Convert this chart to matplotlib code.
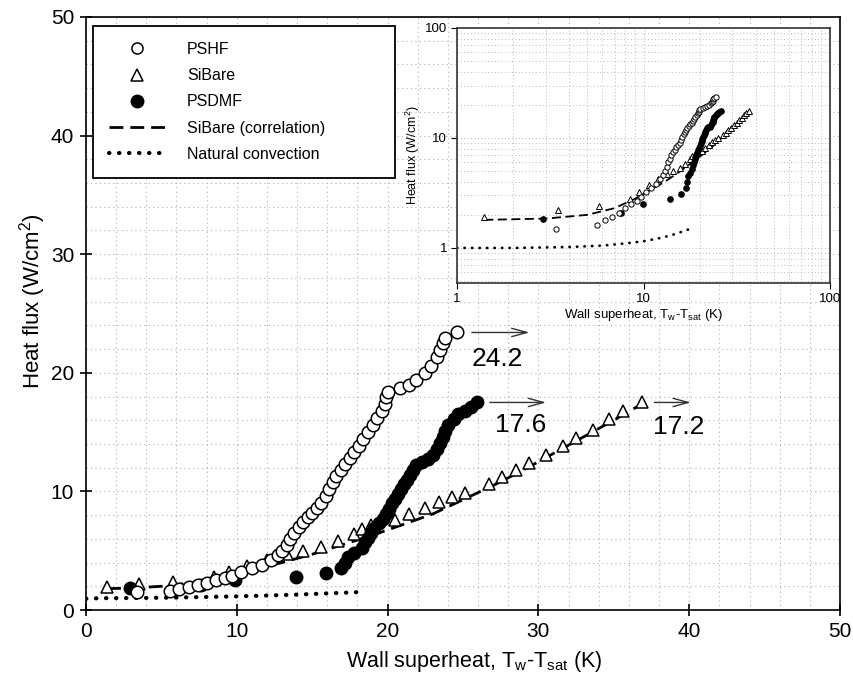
import matplotlib
matplotlib.use("Agg")
import matplotlib.pyplot as plt
from matplotlib.lines import Line2D
from matplotlib.ticker import MultipleLocator, LogLocator, NullFormatter

plt.rcParams['font.family'] = ['Liberation Sans', 'DejaVu Sans']
plt.rcParams['mathtext.fontset'] = 'custom'
plt.rcParams['mathtext.rm'] = 'Liberation Sans'
plt.rcParams['mathtext.default'] = 'regular'

# data (wall superheat K, heat flux W/cm2)
pshf_x = [3.4, 5.6, 6.2, 6.8, 7.4, 8.0, 8.6, 9.2, 9.7, 10.3, 11.0, 11.7, 12.3, 12.7,
          13.0, 13.3, 13.5, 13.8, 14.1, 14.4, 14.7, 15.0, 15.3, 15.6, 15.9, 16.1,
          16.4, 16.6, 16.9, 17.2, 17.5, 17.8, 18.1, 18.4, 18.7, 19.0, 19.3, 19.6,
          19.8, 19.9, 20.0, 20.8, 21.4, 21.9, 22.5, 22.9, 23.3, 23.5, 23.7, 23.8, 24.6]
pshf_y = [1.5, 1.6, 1.8, 1.9, 2.1, 2.3, 2.5, 2.7, 2.9, 3.2, 3.5, 3.8, 4.2, 4.6,
          5.0, 5.5, 6.0, 6.5, 7.0, 7.4, 7.8, 8.2, 8.6, 9.0, 9.6, 10.2,
          10.8, 11.3, 11.8, 12.3, 12.8, 13.3, 13.8, 14.4, 15.0, 15.6, 16.2, 16.8,
          17.4, 18.0, 18.4, 18.7, 19.0, 19.4, 20.0, 20.6, 21.3, 21.9, 22.5, 22.9, 23.4]

psdmf_x = [2.9, 7.6, 9.9, 13.9, 15.9, 16.9, 17.2, 17.4, 17.8, 18.3, 18.5, 18.7, 18.9,
           19.1, 19.4, 19.7, 19.9, 20.1, 20.3, 20.5, 20.7, 20.9, 21.1, 21.3, 21.5,
           21.7, 21.9, 22.3, 22.7, 23.0, 23.3, 23.5, 23.7, 23.8, 24.0, 24.4, 24.7,
           25.1, 25.5, 25.9]
psdmf_y = [1.85, 2.1, 2.5, 2.8, 3.1, 3.5, 4.0, 4.5, 4.8, 5.2, 5.7, 6.1, 6.5,
           6.9, 7.3, 7.7, 8.1, 8.5, 9.0, 9.4, 9.8, 10.2, 10.6, 11.0, 11.4,
           11.8, 12.2, 12.5, 12.7, 13.1, 13.6, 14.1, 14.6, 15.1, 15.6, 16.1, 16.5,
           16.8, 17.1, 17.5]

sibare_x = [1.4, 3.5, 5.8, 8.5, 9.5, 10.7, 12.0, 13.3, 14.4, 15.6, 16.7, 17.8, 18.3,
            18.9, 20.5, 21.4, 22.5, 23.4, 24.3, 25.1, 26.7, 27.6, 28.5, 29.4, 30.5,
            31.6, 32.5, 33.6, 34.7, 35.6, 36.9]
sibare_y = [1.9, 2.2, 2.4, 2.8, 3.2, 3.7, 4.2, 4.7, 5.0, 5.3, 5.8, 6.4, 6.8,
            7.2, 7.6, 8.1, 8.6, 9.1, 9.5, 9.9, 10.6, 11.2, 11.8, 12.4, 13.1,
            13.8, 14.5, 15.2, 16.1, 16.8, 17.5]

corr_x = [1.4, 3, 5, 7, 9, 11, 13, 15, 17, 19, 21, 23, 25, 27, 29, 31, 33, 35, 36.9]
corr_y = [1.8, 1.85, 2.0, 2.3, 2.8, 3.4, 4.0, 4.7, 5.5, 6.3, 7.2, 8.1, 9.3, 10.5,
          11.8, 13.2, 14.6, 16.0, 17.4]

nc_x = [0, 1, 2, 4, 6, 8, 10, 12, 14, 16, 18.3]
nc_y = [0.95, 1.0, 1.0, 1.02, 1.05, 1.1, 1.15, 1.22, 1.3, 1.4, 1.52]

# max heat flux annotations
ann_labels = ['24.2', '17.6', '17.2']
ann_y = [23.4, 17.5, 17.5]
ann_x0 = [25.4, 26.6, 37.5]
ann_x1 = [29.6, 30.7, 40.3]
ann_tx = [25.6, 27.1, 37.6]
ann_ty = [21.2, 15.6, 15.4]

fig = plt.figure(figsize=(8.54, 6.77), dpi=100)
ax = fig.add_axes([86 / 854, 1 - 610 / 677, 754 / 854, 593 / 677])

ms = 8
dot_ls = (0, (0.1, 2.3))
ax.plot(nc_x, nc_y, ls=dot_ls, lw=3, color='black', dash_capstyle='round')
ax.plot(corr_x, corr_y, ls=(0, (5, 2.5)), lw=2, color='black')
ax.plot(sibare_x, sibare_y, ls='none', marker='^', ms=ms, mfc='white', mec='black', mew=1.1)
ax.plot(psdmf_x, psdmf_y, ls='none', marker='o', ms=ms + 1, mfc='black', mec='black')
ax.plot(pshf_x, pshf_y, ls='none', marker='o', ms=ms + 1, mfc='white', mec='black', mew=1.1)

for lab, y, x0, x1, tx, ty in zip(ann_labels, ann_y, ann_x0, ann_x1, ann_tx, ann_ty):
    ax.annotate('', xy=(x1, y), xytext=(x0, y),
                arrowprops=dict(arrowstyle='->,head_length=1.1,head_width=0.3', lw=1, color='#333333'))
    ax.text(tx, ty, lab, fontsize=19, va='center', ha='left')

ax.set_xlim(0, 50)
ax.set_ylim(0, 50)
ax.xaxis.set_major_locator(MultipleLocator(10))
ax.yaxis.set_major_locator(MultipleLocator(10))
ax.xaxis.set_minor_locator(MultipleLocator(2))
ax.yaxis.set_minor_locator(MultipleLocator(2))
ax.grid(which='both', color='#b0b0b0', ls=(0, (1, 3)), lw=0.8)
ax.tick_params(which='major', direction='inout', length=9, width=1.2, labelsize=15, pad=4)
ax.tick_params(which='minor', length=0)
for s in ax.spines.values():
    s.set_linewidth(1.2)
ax.set_xlabel('Wall superheat, T$_w$-T$_{sat}$ (K)', fontsize=15.5)
ax.xaxis.set_label_coords(0.515, -0.066)
ax.set_ylabel('Heat flux (W/cm$^2$)', fontsize=16)
ax.yaxis.set_label_coords(-0.05, 0.52)

handles = [
    Line2D([], [], ls='none', marker='o', ms=ms, mfc='white', mec='black', mew=1.1),
    Line2D([], [], ls='none', marker='^', ms=ms, mfc='white', mec='black', mew=1.1),
    Line2D([], [], ls='none', marker='o', ms=ms + 1, mfc='black', mec='black'),
    Line2D([], [], ls=(0, (5, 2.5)), lw=2, color='black'),
    Line2D([], [], ls=dot_ls, lw=3, color='black', dash_capstyle='round'),
]
labels = ['PSHF', 'SiBare', 'PSDMF', 'SiBare (correlation)', 'Natural convection']
leg = ax.legend(handles, labels, loc='upper left',
                bbox_to_anchor=(93 / 854, 1 - 184 / 677, 302 / 854, 158 / 677),
                bbox_transform=fig.transFigure, mode='expand', borderaxespad=0,
                fontsize=11.5, frameon=True, fancybox=False, edgecolor='black',
                framealpha=1, borderpad=1.0, labelspacing=0.7, handlelength=3.5,
                handletextpad=1.4)
leg.get_frame().set_linewidth(1.3)

# inset log-log plot
ins = fig.add_axes([457 / 854, 1 - 283 / 677, 373 / 854, 255 / 677])
ims = 3.8
ins.plot(nc_x[1:], nc_y[1:], ls=(0, (0.1, 2.6)), lw=2, color='black', dash_capstyle='round')
ins.plot(corr_x, corr_y, ls=(0, (5, 2.5)), lw=1.3, color='black')
ins.plot(sibare_x, sibare_y, ls='none', marker='^', ms=ims, mfc='white', mec='black', mew=0.7)
ins.plot(psdmf_x, psdmf_y, ls='none', marker='o', ms=ims, mfc='black', mec='black')
ins.plot(pshf_x, pshf_y, ls='none', marker='o', ms=ims, mfc='white', mec='black', mew=0.7)
ins.set_xscale('log')
ins.set_yscale('log')
ins.set_xlim(1, 100)
ins.set_ylim(0.48, 100)
ins.xaxis.set_minor_locator(LogLocator(base=10, subs=range(2, 10), numticks=10))
ins.yaxis.set_minor_locator(LogLocator(base=10, subs=range(2, 10), numticks=10))
ins.xaxis.set_minor_formatter(NullFormatter())
ins.yaxis.set_minor_formatter(NullFormatter())
ins.set_xticks([1, 10, 100])
ins.set_xticklabels(['1', '10', '100'])
ins.set_yticks([1, 10, 100])
ins.set_yticklabels(['1', '10', '100'])
ins.grid(which='both', color='#b8b8b8', ls=(0, (1, 2.5)), lw=0.7)
ins.tick_params(which='major', direction='out', length=4, labelsize=9.5, pad=3)
ins.tick_params(which='minor', length=0)
for s in ins.spines.values():
    s.set_linewidth(1.2)
    s.set_color('#333333')
ins.set_xlabel('Wall superheat, T$_w$-T$_{sat}$ (K)', fontsize=9.5, labelpad=2)
ins.set_ylabel('Heat flux (W/cm$^2$)', fontsize=9, labelpad=2)

fig.savefig('out.png', dpi=100)
